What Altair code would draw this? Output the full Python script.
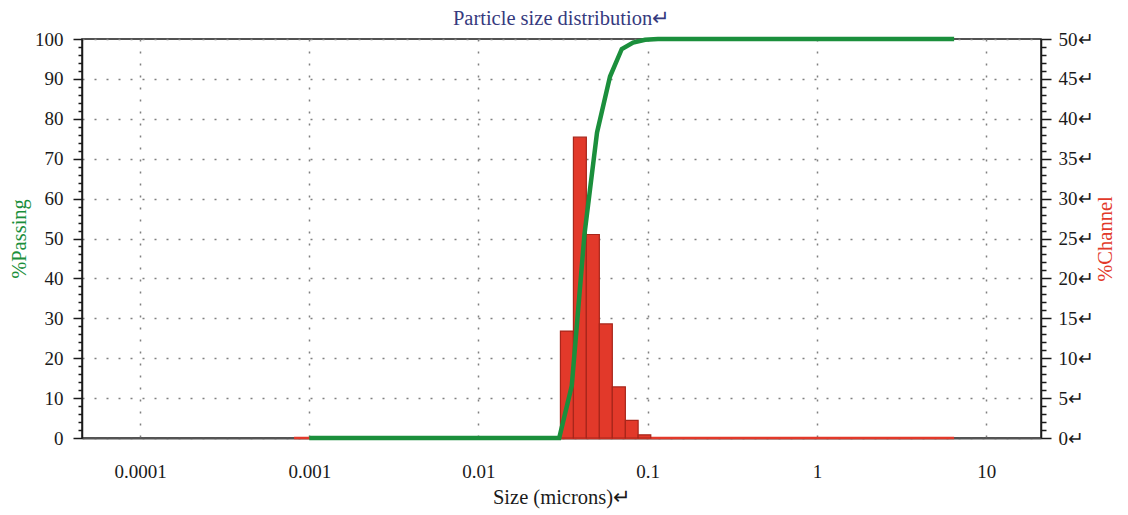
import altair as alt
import pandas as pd

# ---- data ----
bin_lo = [0.0305, 0.0364, 0.0434, 0.0518, 0.0618, 0.0738, 0.0878]
bin_hi = [0.0364, 0.0434, 0.0518, 0.0618, 0.0738, 0.0878, 0.1043]
channel = [13.4, 37.7, 25.5, 14.3, 6.4, 2.2, 0.4]

zero_lo = [0.000813]
zero_hi = [6.47]
zero_val = [0]

size = [0.001, 0.0300, 0.0356, 0.0423, 0.0502, 0.0599, 0.0703, 0.0820, 0.0965, 0.115, 6.47]
passing = [0, 0, 13.1, 51.0, 76.6, 90.6, 97.5, 99.1, 99.8, 100, 100]

x_ticks = [0.0001, 0.001, 0.01, 0.1, 1, 10]
x_domain = [4.54e-5, 21.1]
left_ticks = list(range(0, 101, 2))
right_ticks = list(range(0, 51, 1))

FONT = "Liberation Serif"
FS = 19
TFS = 20.5
GREEN = "#1b8f3c"
RED = "#e2392a"

bars_df = pd.DataFrame({"lo": bin_lo, "hi": bin_hi, "ch": channel, "base": [0] * len(channel)})
zero_df = pd.DataFrame({"lo": zero_lo, "hi": zero_hi, "z": zero_val})
line_df = pd.DataFrame({"size": size, "passing": passing})

x_scale = alt.Scale(type="log", domain=x_domain, nice=False)
x_axis = alt.Axis(
    values=x_ticks, format=".4~f", ticks=False, labelPadding=24,
    grid=True, gridDash=[2, 10], gridColor="#808080", gridWidth=1.5,
    domainColor="#555555", domainWidth=2,
    title="Size (microns)\u21b5", titlePadding=6,
)

right_scale = alt.Scale(domain=[0, 50], nice=False)
right_axis = alt.Axis(
    orient="right", values=right_ticks,
    labelExpr="datum.value % 5 === 0 ? datum.label + '\u21b5' : ''",
    tickSize={"condition": {"test": "datum.value % 5 === 0", "value": 10}, "value": 5},
    labelPadding=7, grid=False, title="%Channel", titleColor=RED,
    titleAngle=270, titlePadding=22,
)

left_scale = alt.Scale(domain=[0, 100], nice=False)
left_axis = alt.Axis(
    orient="left", values=left_ticks,
    labelExpr="datum.value % 10 === 0 ? datum.label : ''",
    tickSize={"condition": {"test": "datum.value % 10 === 0", "value": 9}, "value": 4},
    labelPadding=10, grid=True, gridDash=[2, 10], gridColor="#808080", gridWidth=1.5,
    gridOpacity={"condition": {"test": "datum.value % 10 === 0", "value": 1}, "value": 0},
    title="%Passing", titleColor=GREEN, titlePadding=5,
)

baseline = alt.Chart(zero_df).mark_rule(color=RED, strokeWidth=2.7).encode(
    x=alt.X("lo:Q", scale=x_scale, axis=x_axis),
    x2="hi:Q",
    y=alt.Y("z:Q", scale=right_scale, axis=right_axis),
)

bars = alt.Chart(bars_df).mark_bar(fill=RED, stroke="#a8261b", strokeWidth=1.2).encode(
    x=alt.X("lo:Q", scale=x_scale, axis=x_axis),
    x2="hi:Q",
    y=alt.Y("ch:Q", scale=right_scale, axis=right_axis),
    y2="base:Q",
)

line = alt.Chart(line_df).mark_line(color=GREEN, strokeWidth=4.5).encode(
    x=alt.X("size:Q", scale=x_scale, axis=x_axis),
    y=alt.Y("passing:Q", scale=left_scale, axis=left_axis),
)

chart = alt.layer(alt.layer(baseline, bars), line).resolve_scale(y="independent").properties(
    width=959, height=399,
    autosize=alt.AutoSizeParams(type="none"),
    padding={"left": 74, "top": 31, "right": 77, "bottom": 75},
    title=alt.TitleParams(
        "Particle size distribution\u21b5", font=FONT, fontSize=TFS, color="#363a7e",
        fontWeight="normal", anchor="middle", offset=1, frame="group",
    ),
).configure_axis(
    labelFont=FONT, titleFont=FONT, labelFontSize=FS, titleFontSize=TFS,
    titleFontWeight="normal", labelColor="#1a1a1a", titleColor="#1a1a1a",
    domainColor="#1a1a1a", domainWidth=1.5, tickColor="#1a1a1a", tickWidth=1.5,
).configure_view(stroke="#1a1a1a", strokeWidth=1.5)

chart.save("out.html", embed_options={"renderer": "svg", "actions": False})
